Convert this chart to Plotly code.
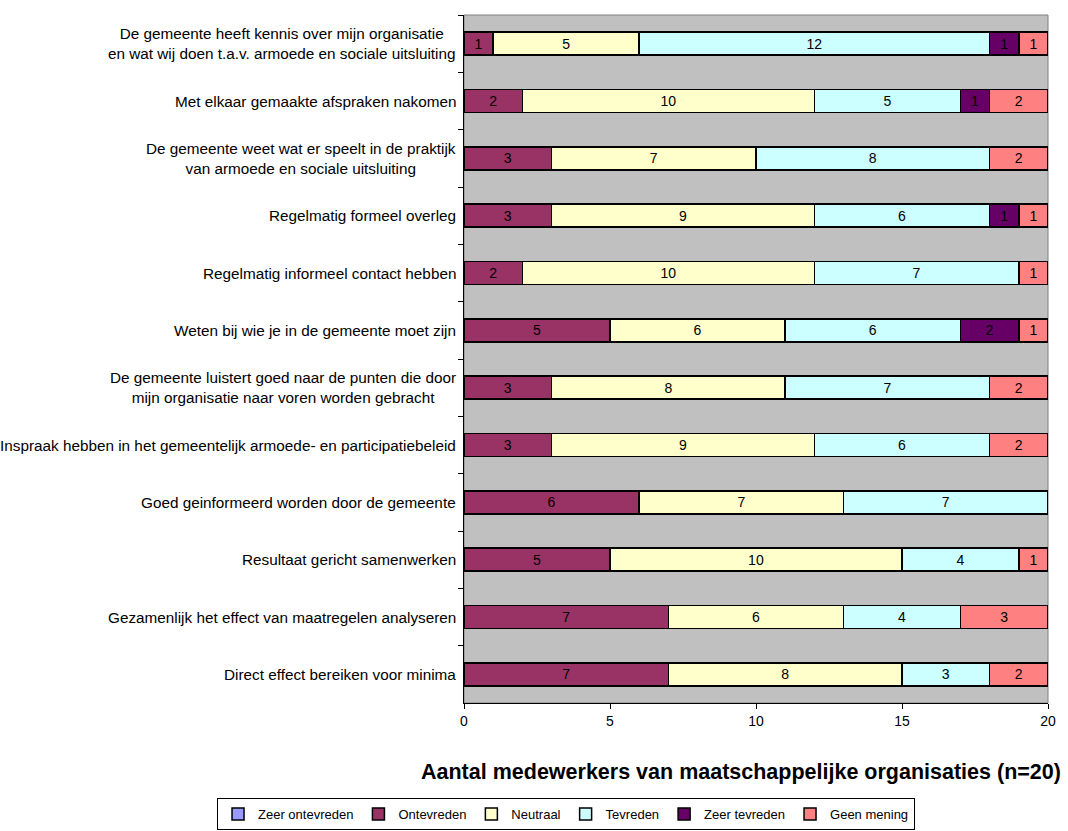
import plotly.graph_objects as go

categories = [
    "De gemeente heeft kennis over mijn organisatie<br>en wat wij doen t.a.v. armoede en sociale uitsluiting",
    "Met elkaar gemaakte afspraken nakomen",
    "De gemeente weet wat er speelt in de praktijk<br>van armoede en sociale uitsluiting",
    "Regelmatig formeel overleg",
    "Regelmatig informeel contact hebben",
    "Weten bij wie je in de gemeente moet zijn",
    "De gemeente luistert goed naar de punten die door<br>mijn organisatie naar voren worden gebracht",
    "Inspraak hebben in het gemeentelijk armoede- en participatiebeleid",
    "Goed geinformeerd worden door de gemeente",
    "Resultaat gericht samenwerken",
    "Gezamenlijk het effect van maatregelen analyseren",
    "Direct effect bereiken voor minima",
]

zeer_ontevreden = [0, 0, 0, 0, 0, 0, 0, 0, 0, 0, 0, 0]
ontevreden = [1, 2, 3, 3, 2, 5, 3, 3, 6, 5, 7, 7]
neutraal = [5, 10, 7, 9, 10, 6, 8, 9, 7, 10, 6, 8]
tevreden = [12, 5, 8, 6, 7, 6, 7, 6, 7, 4, 4, 3]
zeer_tevreden = [1, 1, 0, 1, 0, 2, 0, 0, 0, 0, 0, 0]
geen_mening = [1, 2, 2, 1, 1, 1, 2, 2, 0, 1, 3, 2]

x_ticks = [0, 5, 10, 15, 20]

series = [
    ("Zeer ontevreden", zeer_ontevreden, "#9999FF"),
    ("Ontevreden", ontevreden, "#993366"),
    ("Neutraal", neutraal, "#FFFFCC"),
    ("Tevreden", tevreden, "#CCFFFF"),
    ("Zeer tevreden", zeer_tevreden, "#660066"),
    ("Geen mening", geen_mening, "#FF8080"),
]

FONT = "Liberation Sans, Arial, sans-serif"

fig = go.Figure()
for name, vals, color in series:
    fig.add_trace(go.Bar(
        name=name,
        orientation="h",
        y=categories,
        x=[v if v else None for v in vals],
        text=[str(v) if v else "" for v in vals],
        textposition="inside",
        insidetextanchor="middle",
        textangle=0,
        constraintext="none",
        textfont=dict(family=FONT, size=14, color="black"),
        marker=dict(color=color, line=dict(color="black", width=1.5)),
        hoverinfo="skip",
    ))

# category labels, centred per line and right-aligned against the axis
for cat in categories:
    fig.add_annotation(
        x=0, xref="paper", xanchor="right", xshift=-6,
        y=cat, yref="y", yanchor="middle",
        text=cat, showarrow=False, align="center",
        font=dict(family=FONT, size=15.3, color="black"),
    )

# axis title
fig.add_annotation(
    x=0.475, xref="paper", xanchor="center",
    y=-0.1003, yref="paper", yanchor="middle",
    text="<b>Aantal medewerkers van maatschappelijke organisaties (n=20)</b>",
    showarrow=False,
    font=dict(family=FONT, size=21.5, color="black"),
)

# plot area frame
fig.add_shape(type="rect", xref="paper", yref="paper", x0=0, x1=1, y0=0, y1=1,
              line=dict(color="#808080", width=1), layer="below")

fig.update_layout(
    width=1068, height=831,
    margin=dict(l=464, r=20, t=15, b=128, autoexpand=False),
    barmode="stack",
    bargap=0.6,
    plot_bgcolor="#C0C0C0",
    paper_bgcolor="white",
    font=dict(family=FONT, size=13, color="black"),
    showlegend=True,
    legend=dict(
        orientation="h",
        xref="paper", yref="paper",
        x=-0.4229, xanchor="left",
        y=-0.1846, yanchor="bottom",
        bordercolor="black", borderwidth=1,
        font=dict(family=FONT, size=13, color="black"),
        itemwidth=30,
        traceorder="normal",
    ),
    xaxis=dict(
        range=[0, 20], tickvals=x_ticks, ticks="outside", ticklen=5,
        tickcolor="black", showline=True, linecolor="black", linewidth=1,
        showgrid=False, zeroline=False,
        tickfont=dict(family=FONT, size=14), fixedrange=True,
    ),
    yaxis=dict(
        type="category", autorange="reversed", showticklabels=False,
        ticks="outside", tickson="boundaries", ticklen=5, tickcolor="black",
        showline=True, linecolor="black", linewidth=1, showgrid=False,
        zeroline=False, fixedrange=True,
    ),
)

fig.write_html("out.html")
